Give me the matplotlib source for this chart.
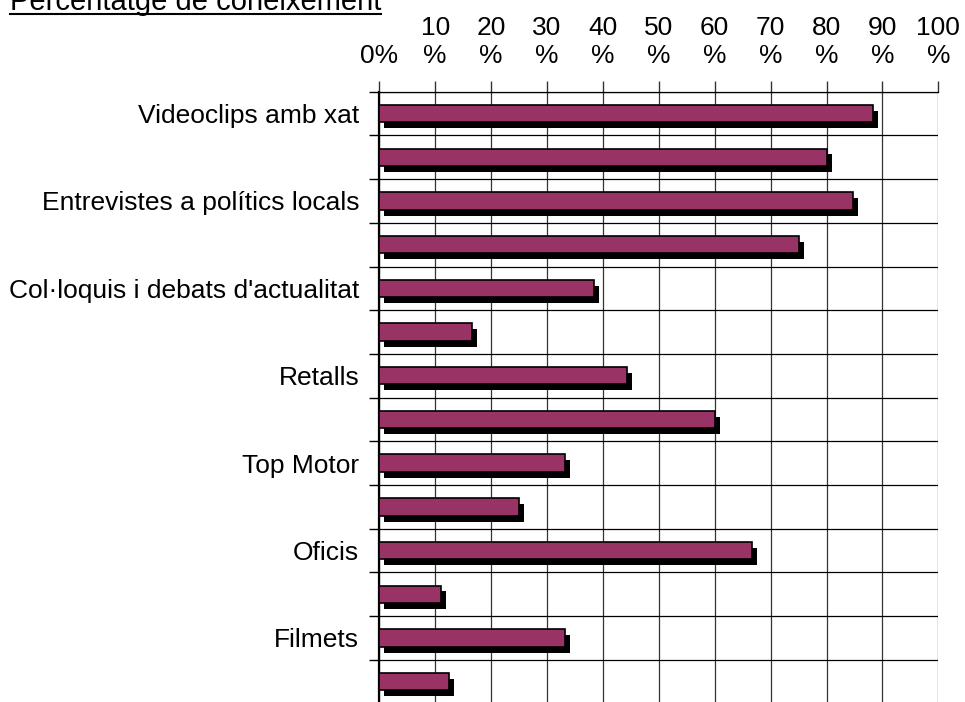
import numpy as np
import matplotlib
matplotlib.use("Agg")
import matplotlib.pyplot as plt
from matplotlib import patheffects
from matplotlib.lines import Line2D

plt.rcParams['font.family'] = ['Liberation Sans', 'DejaVu Sans']

# dades
categories = ["Videoclips amb xat", "", "Entrevistes a polítics locals", "",
              "Col·loquis i debats d'actualitat", "", "Retalls", "",
              "Top Motor", "", "Oficis", "", "Filmets", ""]
values = [88.3, 80.0, 84.7, 75.0, 38.4, 16.6, 44.3, 60.0,
          33.2, 25.0, 66.7, 11.0, 33.2, 12.4]
xticks = [0, 10, 20, 30, 40, 50, 60, 70, 80, 90, 100]
xlabels = ["0%"] + ["%d\n%%" % t for t in xticks[1:]]
title = "Percentatge de coneixement"

W, H = 965, 702
fig = plt.figure(figsize=(W / 100, H / 100), dpi=100)
ax = fig.add_axes([379.3 / W, -1.5 / H, (938.3 - 379.3) / W, (702 - 91.7 + 1.5) / H])

y = np.arange(len(values))
bars = ax.barh(y, values, height=0.4, color="#993366", edgecolor="black",
               linewidth=1.2, zorder=3)
for b in bars:
    b.set_path_effects([patheffects.SimplePatchShadow(offset=(3.6, -4.3),
                                                      shadow_rgbFace="black",
                                                      alpha=1.0),
                        patheffects.Normal()])

ax.set_xlim(0, 100)
ax.set_ylim(len(values) - 0.5, -0.5)

ax.xaxis.tick_top()
ax.set_xticks(xticks)
ax.set_xticklabels(xlabels, fontsize=19, linespacing=1.22)
ax.tick_params(axis="x", direction="out", length=8, width=1, color="#333333",
               pad=9)
for lab in ax.get_xticklabels():
    lab.set_verticalalignment("bottom")

ax.set_yticks(y)
ax.set_yticklabels(categories, fontsize=19)
ax.set_yticks(np.arange(-0.5, len(values), 1), minor=True)
ax.tick_params(axis="y", which="major", length=0, pad=14.4)
ax.tick_params(axis="y", which="minor", direction="out", length=7, width=1,
               color="black")

ax.grid(axis="x", which="major", color="#333333", linewidth=0.9)
ax.grid(axis="y", which="minor", color="black", linewidth=0.9)
ax.set_axisbelow(True)

for s in ["right", "bottom"]:
    ax.spines[s].set_visible(False)
ax.spines["top"].set_linewidth(0.9)
ax.spines["left"].set_linewidth(1.6)

t = fig.text(10 / W, 1 - 10 / H, title, fontsize=21, ha="left", va="baseline")
r = fig.canvas.get_renderer()
bb = t.get_window_extent(renderer=r)
fig.add_artist(Line2D([bb.x0 / W, bb.x1 / W], [1 - 14 / H, 1 - 14 / H],
                      transform=fig.transFigure, color="black", linewidth=1.5))

fig.savefig("out.png", dpi=100)
